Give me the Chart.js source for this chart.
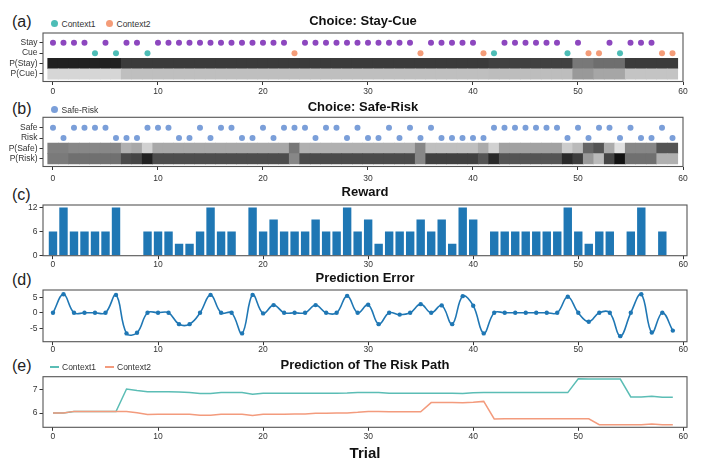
<!DOCTYPE html>
<html>
<head>
<meta charset="utf-8">
<script src="https://cdn.jsdelivr.net/npm/chart.js@4.4.0/dist/chart.umd.min.js"></script>
<style>
body { margin: 0; background: #fff; width: 706px; height: 476px; overflow: hidden; position: relative;
       font-family: 'Liberation Sans', Arial, sans-serif; }
.panel { position: absolute; left: 0; width: 706px; }
.tag { position: absolute; font-size: 16px; color: #222; line-height: 1; }
.legend { position: absolute; font-size: 8.5px; color: #333; display: flex; align-items: center; line-height: 1; }
.dot { display: inline-block; width: 7px; height: 7px; border-radius: 50%; margin-right: 4px; }
.ln { display: inline-block; width: 9px; height: 1.6px; margin-right: 3px; }
</style>
</head>
<body>
<div class="tag" style="left:12px;top:14px">(a)</div>
<div class="legend" style="left:50.5px;top:19.7px"><span class="dot" style="background:#4dbdb6"></span>Context1</div>
<div class="legend" style="left:105.5px;top:19.7px"><span class="dot" style="background:#f49c78"></span>Context2</div>
<div class="panel" style="top:0px;height:100px"><canvas id="cA"></canvas></div>

<div class="tag" style="left:12px;top:100.5px">(b)</div>
<div class="legend" style="left:50.5px;top:105.7px"><span class="dot" style="background:#7b9fd9"></span>Safe-Risk</div>
<div class="panel" style="top:95px;height:90px"><canvas id="cB"></canvas></div>

<div class="tag" style="left:12px;top:186.5px">(c)</div>
<div class="panel" style="top:182px;height:88px"><canvas id="cC"></canvas></div>

<div class="tag" style="left:12px;top:271.5px">(d)</div>
<div class="panel" style="top:268px;height:88px"><canvas id="cD"></canvas></div>

<div class="tag" style="left:12px;top:357.5px">(e)</div>
<div class="legend" style="left:50px;top:363px"><span class="ln" style="background:#5bbdb5"></span>Context1</div>
<div class="legend" style="left:105px;top:363px"><span class="ln" style="background:#f39b7d"></span>Context2</div>
<div class="panel" style="top:355px;height:121px"><canvas id="cE"></canvas></div>

<script>
// ---- data ----
const trials = [0,1,2,3,4,5,6,7,8,9,10,11,12,13,14,15,16,17,18,19,20,21,22,23,24,25,26,27,28,29,
                30,31,32,33,34,35,36,37,38,39,40,41,42,43,44,45,46,47,48,49,50,51,52,53,54,55,56,57,58,59];
const xTickValues = [0, 10, 20, 30, 40, 50, 60];

// 0 = Stay, 1 = Cue (Context1), 2 = Cue (Context2)
const stayCueChoice = [0,0,0,0,1,0,1,0,0,1,
                       0,0,0,0,0,0,0,0,0,0,
                       0,0,0,2,0,0,0,0,0,0,
                       0,0,0,0,0,2,0,0,0,0,
                       0,2,1,0,0,0,0,0,0,1,
                       0,2,2,0,1,0,0,0,2,2];
const pStay = [.87,.87,.87,.87,.87,.87,.87,.77,.77,.77,
               .77,.77,.77,.77,.77,.77,.77,.77,.77,.77,
               .77,.77,.77,.77,.77,.77,.77,.77,.77,.77,
               .77,.77,.77,.77,.77,.77,.77,.77,.77,.77,
               .77,.77,.75,.75,.75,.75,.75,.75,.75,.75,
               .53,.53,.57,.57,.57,.77,.77,.77,.77,.77];
const pCue = [.16,.16,.16,.16,.16,.16,.16,.25,.25,.25,
              .25,.25,.25,.25,.25,.25,.25,.25,.25,.25,
              .25,.25,.25,.25,.25,.25,.25,.25,.25,.25,
              .25,.25,.25,.25,.25,.25,.25,.25,.25,.25,
              .25,.25,.26,.26,.26,.26,.26,.26,.26,.26,
              .40,.40,.35,.35,.35,.23,.23,.23,.23,.23];

// 0 = Safe, 1 = Risk
const safeRiskChoice = [0,1,0,0,0,0,1,1,1,0,
                        0,0,1,1,0,1,0,0,1,1,
                        0,1,0,0,0,1,0,0,1,0,
                        1,1,0,1,0,1,0,1,1,1,
                        1,1,0,0,0,0,0,0,0,1,
                        0,1,0,0,1,0,1,1,0,1];
const pSafe = [.50,.50,.47,.47,.47,.47,.47,.31,.34,.18,
               .34,.34,.34,.34,.34,.34,.34,.34,.34,.34,
               .34,.34,.34,.53,.31,.31,.31,.31,.31,.31,
               .31,.31,.31,.31,.31,.47,.25,.25,.25,.25,
               .25,.33,.18,.37,.37,.37,.37,.37,.37,.20,
               .27,.60,.67,.33,.12,.47,.47,.47,.67,.67];
const pRisk = [.52,.52,.56,.56,.56,.56,.56,.71,.73,.87,
               .70,.70,.70,.70,.70,.70,.70,.70,.70,.70,
               .70,.70,.70,.47,.71,.71,.71,.71,.71,.71,
               .71,.71,.71,.71,.71,.47,.75,.75,.75,.75,
               .75,.67,.84,.67,.67,.67,.67,.67,.67,.84,
               .76,.40,.27,.73,.93,.56,.56,.56,.31,.31];

const reward = [6,12,6,6,6,6,12,0,0,6,
                6,6,3,3,6,12,6,6,0,12,
                6,9,6,6,6,9,6,6,12,6,
                9,3,6,6,6,9,6,9,3,12,
                9,0,6,6,6,6,6,6,6,12,
                6,3,6,6,0,6,12,0,6,0];

const predError = [0,6.0,0,0,0,0,5.8,-6.7,-6.5,0,
                   0,0,-3.7,-3.7,0,5.8,0,0,-6.7,5.8,
                   -0.2,2.5,0,0,0,2.5,0,0,5.5,0,
                   2.6,-3.7,0,-0.6,0,2.8,0,2.4,-3.7,5.4,
                   2.3,-6.7,0,0,0,0,0,0,0,5.2,
                   0,-2.9,0,0,-7.6,0,6.0,-6.4,0,-5.8];

const riskPathC1 = [6.00,6.00,6.06,6.06,6.06,6.06,6.06,7.01,6.95,6.90,
                    6.90,6.90,6.89,6.86,6.82,6.82,6.86,6.86,6.86,6.79,
                    6.83,6.83,6.83,6.83,6.83,6.83,6.83,6.83,6.84,6.87,
                    6.87,6.87,6.83,6.83,6.83,6.83,6.83,6.83,6.83,6.82,
                    6.85,6.86,6.86,6.86,6.86,6.86,6.86,6.86,6.86,6.86,
                    7.44,7.43,7.43,7.43,7.43,6.68,6.68,6.71,6.67,6.67];
const riskPathC2 = [6.00,6.00,6.07,6.07,6.07,6.07,6.07,6.07,6.01,5.94,
                    5.95,5.95,5.95,5.95,5.91,5.91,5.95,5.95,5.95,5.90,
                    5.95,5.95,5.95,5.96,5.96,5.99,5.99,6.00,6.00,6.03,
                    6.07,6.07,6.05,6.05,6.05,6.05,6.44,6.44,6.44,6.43,
                    6.45,6.49,5.75,5.76,5.76,5.76,5.76,5.76,5.76,5.76,
                    5.76,5.76,5.51,5.51,5.51,5.51,5.51,5.54,5.51,5.51];

// ---- style ----
const FONT = "'Liberation Sans', Arial, sans-serif";
const C1 = '#4dbdb6', C2 = '#f49c78', PURPLE = '#8d47bf', SR_BLUE = '#7b9fd9', BLUE = '#1f77b4';
const grey = v => { const g = Math.round(255 * (1 - v)); return 'rgb(' + g + ',' + g + ',' + g + ')'; };
const tickFont = { family: FONT, size: 8.5, lineHeight: 1 };

const framePlugin = {
    id: 'frame',
    afterDatasetsDraw(chart) {
        const ctx = chart.ctx, a = chart.chartArea;
        ctx.save();
        ctx.strokeStyle = '#555';
        ctx.lineWidth = 1.1;
        ctx.strokeRect(a.left, a.top, a.right - a.left, a.bottom - a.top);
        ctx.restore();
    }
};

function baseOptions(p) {
    return {
        responsive: true,
        maintainAspectRatio: false,
        animation: false,
        layout: { padding: { left: 0, right: p.right, top: 0, bottom: 0 } },
        plugins: {
            legend: { display: false },
            tooltip: { enabled: false },
            title: {
                display: true, text: p.title, fullSize: false, color: '#111',
                font: { family: FONT, size: 13, weight: 'bold', lineHeight: 1.2 },
                padding: { top: p.tTop, bottom: p.tBottom }
            }
        },
        scales: {
            x: {
                type: 'linear', min: -0.95, max: p.xMax, offset: false,
                grid: { display: true, drawOnChartArea: false, drawTicks: true, tickLength: 3.5, color: '#333', offset: false },
                border: { display: false },
                ticks: { font: tickFont, color: '#333', padding: p.xPad, maxRotation: 0, autoSkip: false },
                afterBuildTicks: s => { s.ticks = xTickValues.map(v => ({ value: v })); },
                afterFit: s => { s.height = p.xHeight; },
                title: p.xTitle || { display: false }
            },
            y: {
                type: 'linear', min: p.yMin, max: p.yMax,
                grid: { display: true, drawOnChartArea: false, drawTicks: true, tickLength: 3.5, color: '#333' },
                border: { display: false },
                ticks: p.yLabels
                    ? { font: tickFont, color: '#333', padding: 2, callback: v => p.yLabels[v] }
                    : { font: tickFont, color: '#333', padding: 2 },
                afterBuildTicks: s => { s.ticks = p.yTicks.map(v => ({ value: v })); },
                afterFit: s => { s.width = 43; }
            }
        }
    };
}

// ---- (a) Choice: Stay-Cue ----
const stayPts = [], cuePts = [], cueColors = [];
stayCueChoice.forEach((c, i) => {
    if (c === 0) stayPts.push({ x: trials[i], y: 3 });
    else { cuePts.push({ x: trials[i], y: 2 }); cueColors.push(c === 1 ? C1 : C2); }
});
const heatA = [], heatAColors = [];
pStay.forEach((v, i) => { heatA.push({ x: trials[i], y: [0.5, 1.5] }); heatAColors.push(grey(v)); });
pCue.forEach((v, i) => { heatA.push({ x: trials[i], y: [-0.5, 0.5] }); heatAColors.push(grey(v)); });

new Chart(document.getElementById('cA'), {
    type: 'bar',
    data: {
        datasets: [
            { type: 'scatter', label: 'Stay', data: stayPts, pointRadius: 3, pointBackgroundColor: PURPLE, pointBorderWidth: 0, order: 0 },
            { type: 'scatter', label: 'Cue', data: cuePts, pointRadius: 3, pointBackgroundColor: cueColors, pointBorderWidth: 0, order: 0 },
            { type: 'bar', label: 'P(Stay)/P(Cue)', data: heatA, backgroundColor: heatAColors, borderWidth: 0,
              barPercentage: 1, categoryPercentage: 1, order: 1 }
        ]
    },
    options: baseOptions({
        title: 'Choice: Stay-Cue', tTop: 14, tBottom: 3.4, right: 23, xMax: 60, xHeight: 18.5, xPad: 2.5,
        yMin: -0.72, yMax: 3.93, yTicks: [0, 1, 2, 3],
        yLabels: { 3: 'Stay', 2: 'Cue', 1: 'P(Stay)', 0: 'P(Cue)' }
    }),
    plugins: [framePlugin]
});

// ---- (b) Choice: Safe-Risk ----
const safePts = [], riskPts = [];
safeRiskChoice.forEach((c, i) => {
    if (c === 0) safePts.push({ x: trials[i], y: 3 });
    else riskPts.push({ x: trials[i], y: 2 });
});
const heatB = [], heatBColors = [];
pSafe.forEach((v, i) => { heatB.push({ x: trials[i], y: [0.5, 1.5] }); heatBColors.push(grey(v)); });
pRisk.forEach((v, i) => { heatB.push({ x: trials[i], y: [-0.5, 0.5] }); heatBColors.push(grey(v)); });

new Chart(document.getElementById('cB'), {
    type: 'bar',
    data: {
        datasets: [
            { type: 'scatter', label: 'Safe', data: safePts, pointRadius: 3, pointBackgroundColor: SR_BLUE, pointBorderWidth: 0, order: 0 },
            { type: 'scatter', label: 'Risk', data: riskPts, pointRadius: 3, pointBackgroundColor: SR_BLUE, pointBorderWidth: 0, order: 0 },
            { type: 'bar', label: 'P(Safe)/P(Risk)', data: heatB, backgroundColor: heatBColors, borderWidth: 0,
              barPercentage: 1, categoryPercentage: 1, order: 1 }
        ]
    },
    options: baseOptions({
        title: 'Choice: Safe-Risk', tTop: 4.2, tBottom: 2.5, right: 23, xMax: 60, xHeight: 18.5, xPad: 4.4,
        yMin: -0.75, yMax: 4.0, yTicks: [0, 1, 2, 3],
        yLabels: { 3: 'Safe', 2: 'Risk', 1: 'P(Safe)', 0: 'P(Risk)' }
    }),
    plugins: [framePlugin]
});

// ---- (c) Reward ----
new Chart(document.getElementById('cC'), {
    type: 'bar',
    data: {
        datasets: [{
            label: 'Reward', data: reward.map((v, i) => ({ x: trials[i], y: v })),
            backgroundColor: BLUE, borderWidth: 0, inflateAmount: 0, barPercentage: 0.8, categoryPercentage: 1
        }]
    },
    options: baseOptions({
        title: 'Reward', tTop: 2.2, tBottom: 5.2, right: 19, xMax: 60.35, xHeight: 14.3, xPad: 0.8,
        yMin: 0, yMax: 12.6, yTicks: [0, 6, 12]
    }),
    plugins: [framePlugin]
});

// ---- (d) Prediction Error ----
new Chart(document.getElementById('cD'), {
    type: 'line',
    data: {
        datasets: [{
            label: 'Prediction Error', data: predError.map((v, i) => ({ x: trials[i], y: v })),
            borderColor: BLUE, borderWidth: 1.6, tension: 0.4, fill: false,
            pointRadius: 2.2, pointBackgroundColor: BLUE, pointBorderWidth: 0
        }]
    },
    options: baseOptions({
        title: 'Prediction Error', tTop: 2.2, tBottom: 4.2, right: 19, xMax: 60.35, xHeight: 14.3, xPad: 0,
        yMin: -9.4, yMax: 7.4, yTicks: [-5, 0, 5]
    }),
    plugins: [framePlugin]
});

// ---- (e) Prediction of The Risk Path ----
new Chart(document.getElementById('cE'), {
    type: 'line',
    data: {
        datasets: [
            { label: 'Context1', data: riskPathC1.map((v, i) => ({ x: trials[i], y: v })),
              borderColor: '#5bbdb5', borderWidth: 1.5, tension: 0, pointRadius: 0, fill: false, order: 1 },
            { label: 'Context2', data: riskPathC2.map((v, i) => ({ x: trials[i], y: v })),
              borderColor: '#f39b7d', borderWidth: 1.5, tension: 0, pointRadius: 0, fill: false, order: 0 }
        ]
    },
    options: baseOptions({
        title: 'Prediction of The Risk Path', tTop: 2.7, tBottom: 3.4, right: 19, xMax: 60.35, xHeight: 48.7, xPad: 2.1,
        yMin: 5.4, yMax: 7.53, yTicks: [6, 7],
        xTitle: { display: true, text: 'Trial', color: '#111', font: { family: FONT, size: 15, weight: 'bold', lineHeight: 1.2 },
                  padding: { top: 0, bottom: 13 } }
    }),
    plugins: [framePlugin]
});
</script>
</body>
</html>
